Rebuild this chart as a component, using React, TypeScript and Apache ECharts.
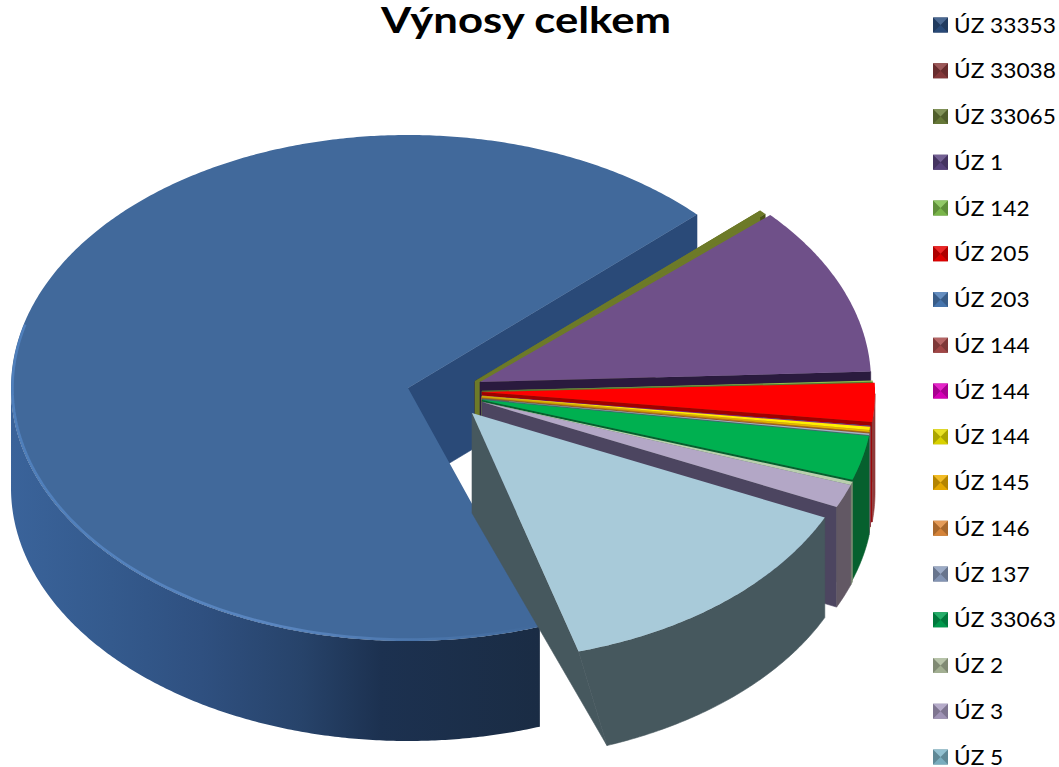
import React, { useEffect, useRef } from "react";
import * as echarts from "echarts";

const TITLE = "Výnosy celkem";
const names = ["ÚZ 33353","ÚZ 33038","ÚZ 33065","ÚZ 1","ÚZ 142","ÚZ 205","ÚZ 203","ÚZ 144","ÚZ 144","ÚZ 144","ÚZ 145","ÚZ 146","ÚZ 137","ÚZ 33063","ÚZ 2","ÚZ 3","ÚZ 5"];
const values = [67.73,0.03,0.3,10.92,0.08,2.476,0.03,0.015,0.015,0.2,0.03,0.008,0.09,2.85,0.22,1.51,13.53];

const topColors = ["#41699b","#8c3a38","#6d7a28","#6f5089","#8ebf4a","#ff0000","#4a7ebb","#a84a48","#e010c0","#fff000","#ffc000","#e08a3c","#a3b2c8","#00b050","#b9cfae","#b3a7c6","#a8cad9"];
const faceColors = ["#2a4a78","#5a2624","#4a5318","#2a1a3e","#5b7a2e","#a00000","#2f5280","#6e2f2e","#900080","#d8b800","#c89a00","#955a26","#406c70","#06602e","#7a8972","#4c4560","#46585e"];
const wallColors = ["#2a4a78","#5a2624","#4a5318","#4b3660","#5b7a2e","#8f3a3a","#2f5280","#6e2f2e","#900080","#a09000","#a88000","#955a26","#606c80","#06602e","#7a8972","#625864","#46585e"];
const legendColors = ["#2a4d7d","#8a3a3c","#6a7d3a","#5a4480","#7fbf4d","#e80000","#4a7ab5","#a84a4a","#e000c0","#e4dc00","#f0b000","#e08a3c","#8a9cbc","#00a050","#aab89a","#a89cc0","#7fb5c8"];

const explodeX = [-62,5,5,10,12,12,12,12,12,12,12,12,12,12,12,12,2];
const explodeY = [-7,-13,-14,-13,-4,-3,1,1,1,1,2,3,4,5,7,7,18];
const radiusScale = [1,.985,.985,.985,.985,.99,.985,.985,.985,.985,.985,.985,.985,.985,.985,.985,.98];
const wallSkew = [0,0,0,0,0,0,0,0,0,0,0,0,0,0,0,0,4.4];

const CX = 470, CY = 395, RX = 397, RY = 253, DEPTH = 100;
const START = 70.6, SWEEP_TOTAL = 363.5;

const rad = (d: number) => (d * Math.PI) / 180;
const total = values.reduce((a, b) => a + b, 0);

function renderSlice(params: any, api: any) {
  const i = params.dataIndex;
  let t0 = START;
  for (let k = 0; k < i; k++) t0 += (values[k] / total) * SWEEP_TOTAL;
  const t1 = t0 + (api.value(0) / total) * SWEEP_TOTAL;
  const cx = CX + explodeX[i], cy = CY + explodeY[i];
  const rx = RX * radiusScale[i], ry = RY * radiusScale[i];
  const pt = (t: number, dz = 0) => [cx + rx * Math.cos(rad(t)), cy + ry * Math.sin(rad(t)) + dz];
  const ts: number[] = [];
  for (let t = t0; t < t1; t += 0.5) ts.push(t);
  ts.push(t1);
  const children: any[] = [];
  const skewAt = (t: number) => (wallSkew[i] * (t - t0)) / (t1 - t0);
  // cut face on the slice's far edge
  children.push({
    type: "polygon",
    shape: { points: [[cx, cy], pt(t1), pt(t1 - wallSkew[i], DEPTH), [cx, cy + DEPTH]] },
    style: { fill: faceColors[i], stroke: faceColors[i], lineWidth: 0.6 },
  });
  if (i === 2) {
    children.push({
      type: "polygon",
      shape: { points: [[cx, cy], pt(t0), pt(t0, DEPTH), [cx, cy + DEPTH]] },
      style: { fill: topColors[i] },
    });
  }
  // outer wall
  const vis = ts.filter((t) => Math.sin(rad(t)) >= -1e-6);
  if (vis.length > 1) {
    const upper = vis.map((t) => pt(t));
    const lower = vis.map((t) => pt(t - skewAt(t), DEPTH)).reverse();
    children.push({
      type: "polygon",
      shape: { points: upper.concat(lower) },
      style: i === 0
        ? {
            fill: {
              type: "linear", x: 0, y: 0, x2: 1, y2: 0,
              colorStops: [
                { offset: 0, color: "#3a639a" },
                { offset: 0.19, color: "#345a8d" },
                { offset: 0.36, color: "#2f5080" },
                { offset: 0.55, color: "#27436a" },
                { offset: 0.7, color: "#1c3150" },
                { offset: 1, color: "#1a2c44" },
              ],
            },
          }
        : { fill: wallColors[i], stroke: wallColors[i], lineWidth: 0.6 },
    });
  }
  // top face
  children.push({
    type: "polygon",
    shape: { points: [[cx, cy] as number[]].concat(ts.map((t) => pt(t))) },
    style: { fill: topColors[i] },
  });
  // soft bevel along the main slice's front rim
  if (i === 0) {
    const rim: number[][] = [];
    for (let t = t0; t <= 195; t += 1) {
      rim.push([cx + (rx - 1.5) * Math.cos(rad(t)), cy + (ry - 1.5) * Math.sin(rad(t))]);
    }
    children.push({
      type: "polyline",
      shape: { points: rim },
      style: {
        fill: "none",
        lineWidth: 2.5,
        stroke: {
          type: "linear", x: 0, y: 0, x2: 1, y2: 0,
          colorStops: [
            { offset: 0, color: "#4f7fbb" },
            { offset: 0.5, color: "#5a86c0" },
            { offset: 0.8, color: "#4a75ab" },
            { offset: 1, color: "#41699b" },
          ],
        },
      },
    });
  }
  return { type: "group", children };
}

function shade(hex: string, f: number) {
  const n = parseInt(hex.slice(1), 16);
  const c = [(n >> 16) & 255, (n >> 8) & 255, n & 255].map((v) =>
    Math.round(f >= 0 ? v + (255 - v) * f : v * (1 + f))
  );
  return `rgb(${c[0]},${c[1]},${c[2]})`;
}

const LEGEND_X = 933, LEGEND_Y = 25, LEGEND_STEP = 45.75, BOX = 15;
const legendElements = names.flatMap((name, i) => {
  const y = LEGEND_Y + i * LEGEND_STEP;
  const col = legendColors[i];
  return [
    { type: "rect", shape: { x: LEGEND_X, y: y - BOX / 2, width: BOX, height: BOX }, style: { fill: shade(col, -0.25) } },
    { type: "polygon", shape: { points: [[LEGEND_X, y - BOX / 2], [LEGEND_X + BOX, y - BOX / 2], [LEGEND_X + BOX / 2, y]] }, style: { fill: shade(col, 0.15) } },
    { type: "polygon", shape: { points: [[LEGEND_X, y + BOX / 2], [LEGEND_X + BOX, y + BOX / 2], [LEGEND_X + BOX / 2, y]] }, style: { fill: shade(col, -0.05) } },
    { type: "text", x: LEGEND_X + 21, y: y - 0.5, scaleX: 1.08, style: { text: name, fill: "#000", font: "21px Lato", lineHeight: 18, verticalAlign: "middle", align: "left" } },
  ];
});

const titleElement = {
  type: "text",
  x: 381,
  y: 19,
  scaleX: 1.18,
  style: { text: TITLE, fill: "#000", font: "bold 37px Lato", lineHeight: 34, verticalAlign: "middle", align: "left" },
};

export default function App() {
  const ref = useRef<HTMLDivElement>(null);
  useEffect(() => {
    const chart = echarts.init(ref.current!, undefined, { renderer: "svg" });
    chart.setOption({
      animation: false,
      backgroundColor: "#fff",
      graphic: { elements: [titleElement, ...legendElements] },
      series: [
        {
          type: "custom",
          coordinateSystem: "none",
          silent: true,
          renderItem: renderSlice,
          data: values.map((v) => [v]),
        },
      ],
    });
    return () => chart.dispose();
  }, []);
  return <div ref={ref} style={{ position: "fixed", left: 0, top: 0, width: 1059, height: 767 }} />;
}
